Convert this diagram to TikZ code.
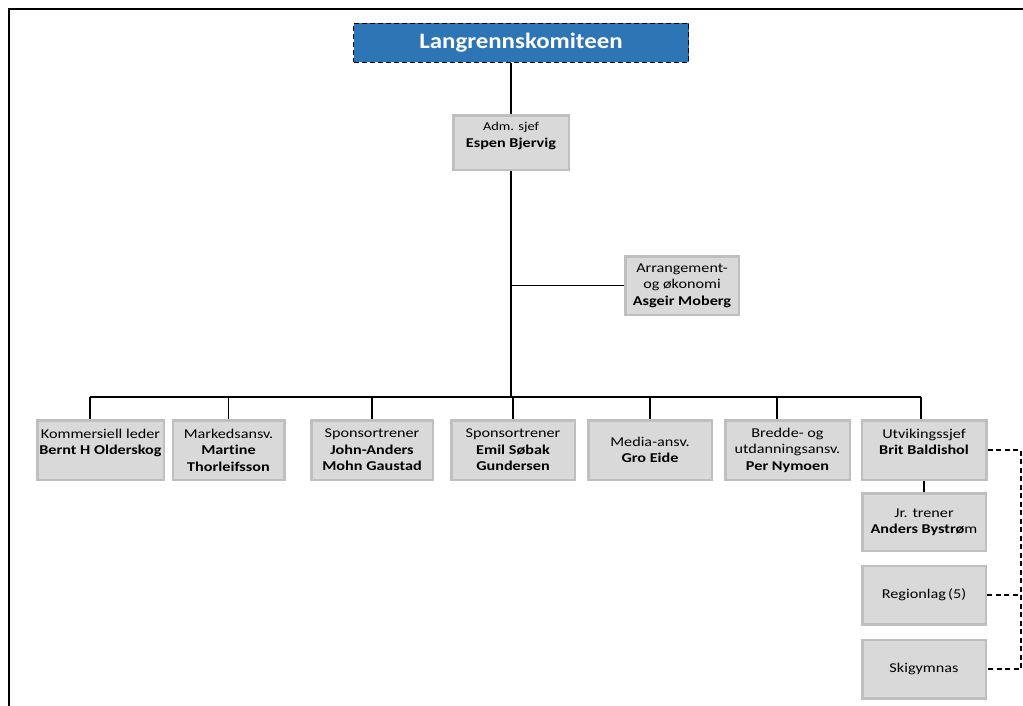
\documentclass[tikz,border=0pt]{standalone}
\usepackage{fontspec}
\setmainfont{Carlito}[FakeStretch=1.2, Ligatures=NoCommon]
\newfontfamily\titlefont{Carlito}[FakeStretch=1.13, Ligatures=NoCommon]
\usepackage{xcolor, tikz}
\usetikzlibrary{calc}
\usetikzlibrary{backgrounds,positioning}
\definecolor{komblue}{HTML}{2E75B6}
\definecolor{boxfill}{HTML}{D9D9D9}
\definecolor{boxedge}{HTML}{BFBFBF}

\begin{document}
\begin{tikzpicture}[x=1pt, y=-1pt, font=\fontsize{13.5}{16.5}\selectfont,
	rolle/.style={draw=boxedge, line width=2.5pt, fill=boxfill, align=center,
		inner sep=1pt, minimum height=59.5pt},
	komite/.style={draw=black, dash pattern=on 5pt off 3pt, line width=1.3pt, fill=komblue, text=white,
		font=\titlefont\fontsize{22}{24}\selectfont\bfseries, minimum width=335pt, minimum height=39pt},
	linje/.style={line width=1.1pt},
	stiplet/.style={line width=1.1pt, dash pattern=on 5pt off 3.5pt}]
	\useasboundingbox (0,0) rectangle (1023,706);
	%frame
	\draw[line width=2pt] (9,706) -- (9,9) -- (1023,9);

	%top
	\node[komite] (komite) at (521,43) {Langrennskomiteen};
	\node[rolle, minimum width=115.5pt, minimum height=54.5pt] (adm) at (511,143)
		{{\fontsize{12}{15}\selectfont Adm. sjef}\\\textbf{Espen Bjervig}\\\mbox{}};
	\node[rolle, minimum width=113.5pt, minimum height=58.5pt] (arr) at (682,285.5)
		{Arrangement-\\og økonomi\\\textbf{Asgeir Moberg}};

	%row
	\node[rolle, minimum width=126.5pt] (kom) at (100.5,450)
		{Kommersiell leder\\\textbf{Bernt H Olderskog}\\\mbox{}};
	\node[rolle, minimum width=111.5pt] (mark) at (228.5,450)
		{Markedsansv.\\\textbf{Martine}\\\textbf{Thorleifsson}};
	\node[rolle, minimum width=121.5pt] (john) at (372,450)
		{Sponsortrener\\\textbf{John-Anders}\\\textbf{Mohn Gaustad}};
	\node[rolle, minimum width=123.5pt] (emil) at (513,450)
		{Sponsortrener\\\textbf{Emil Søbak}\\\textbf{Gundersen}};
	\node[rolle, minimum width=123.5pt] (media) at (650,450)
		{Media-ansv.\\\textbf{Gro Eide}};
	\node[rolle, minimum width=124.5pt] (bredde) at (787.5,450)
		{Bredde- og\\utdanningsansv.\\\textbf{Per Nymoen}};
	\node[rolle, minimum width=124.5pt] (brit) at (924,450)
		{Utvikingssjef\\\textbf{Brit Baldishol}\\\mbox{}};

	%under utvikling
	\node[rolle, minimum width=123.5pt, minimum height=57.5pt] (jr) at (924,522)
		{Jr. trener\\\textbf{Anders Bystrø}m};
	\node[rolle, minimum width=123.5pt, minimum height=58.5pt] (region) at (924,595)
		{Regionlag\,(5)};
	\node[rolle, minimum width=123.5pt, minimum height=58.5pt] (skig) at (924,669)
		{Skigymnas};

	%lines
	\coordinate (busL) at (90,397);
	\coordinate (busR) at (921,397);
	\draw[linje] (komite.south -| adm.north) -- (adm.north);
	\draw[linje] (adm.south) -- (adm.south |- busL);
	\draw[linje] (adm.south |- arr.west) -- (arr.west);
	\draw[linje] (busL) -- (busR);
	\draw[linje] (busL) -- (busL |- kom.north);
	\foreach \n in {mark,john,emil,media}
		\draw[linje] (\n.north |- busL) -- (\n.north);
	\draw[linje] ([xshift=-10.5pt]bredde.north |- busL) -- ([xshift=-10.5pt]bredde.north);
	\draw[linje] (busR) -- (busR |- brit.north);
	\draw[linje] (brit.south) -- (jr.north);

	%dashed
	\coordinate (dashx) at (1021,0);
	\draw[stiplet] (brit.east) -| (dashx |- skig.east) -- (skig.east);
	\draw[stiplet] (region.east) -- (dashx |- region.east);
\end{tikzpicture}
\end{document}
